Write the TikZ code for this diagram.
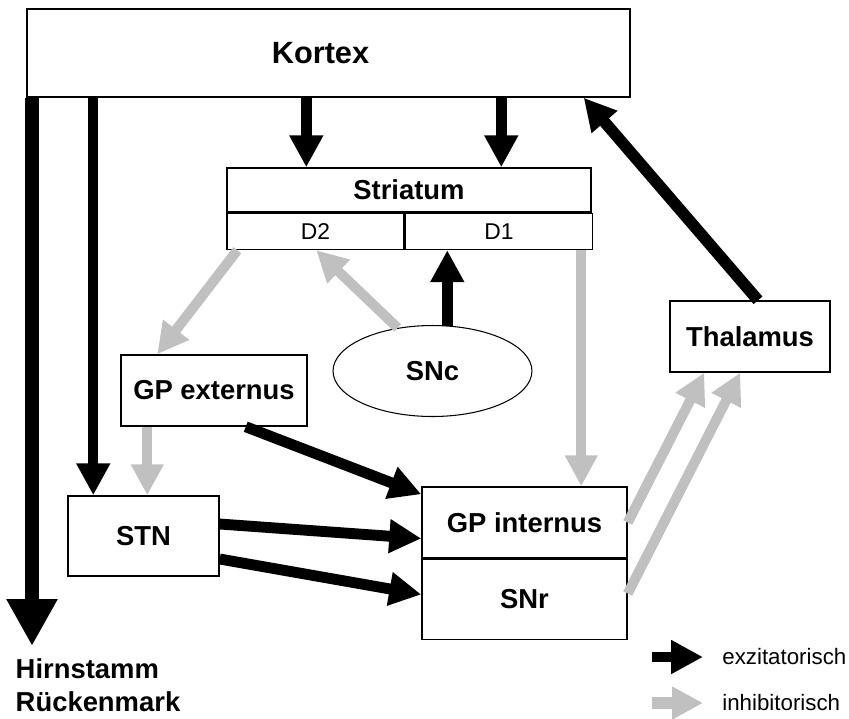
\documentclass[tikz,border=0pt]{standalone}
\usepackage{fontspec}
\setmainfont{Liberation Sans}
\usetikzlibrary{calc, arrows.meta, shapes}
\definecolor{mygray}{RGB}{192, 192, 192}
\tikzset{>=latex}

\begin{document}
\begin{tikzpicture}[x=0.02cm, y=-0.02cm,
  box/.style={draw, line width=0.85pt, inner sep=0pt, font=\fontsize{15.6}{18.7}\selectfont\bfseries},
  sub/.style={draw, line width=0.85pt, inner sep=0pt, minimum height=0.72cm, font=\fontsize{13}{15}\selectfont},
  exz/.style={line width=6.2pt, -{Triangle[length=0.64cm, width=0.64cm]}},
  inh/.style={draw=mygray, line width=5.7pt, -{Triangle[length=0.62cm, width=0.62cm]}},
  lbl/.style={inner sep=0pt, font=\fontsize{12.7}{15}\selectfont}]
\useasboundingbox (0,0) rectangle (849,718);

\node[box, minimum width=12.06cm, minimum height=1.76cm, font=\fontsize{17.5}{21}\selectfont\bfseries] (kortex) at (328.5,53) {Kortex\rule{0.32cm}{0pt}};
\node[box, minimum width=7.28cm, minimum height=0.88cm] (striatum) at (409,190) {Striatum};
\node[sub, anchor=north west, minimum width=3.54cm] (d2) at (striatum.south west) {D2};
\node[sub, anchor=north west, minimum width=3.74cm] (d1) at (d2.north east) {D1};
\node[box, minimum width=3.72cm, minimum height=1.42cm] (gpe) at (214,390.5) {GP externus};
\node[box, ellipse, line width=0.6pt, minimum width=3.98cm, minimum height=1.82cm] (snc) at (432.5,371) {SNc};
\node[box, minimum width=3.02cm, minimum height=1.6cm] (stn) at (143.5,536) {STN};
\node[box, minimum width=4.1cm, minimum height=1.42cm] (gpi) at (524.5,522.5) {GP internus};
\node[box, anchor=north, minimum width=4.1cm, minimum height=1.6cm] (snr) at (gpi.south) {SNr};
\node[box, minimum width=3.2cm, minimum height=1.42cm] (thal) at (750,336.5) {Thalamus};

\coordinate (hirn) at (32,646);
\coordinate (s1) at ($(striatum.north west)+(80,0)$);
\coordinate (s2) at ($(striatum.north west)+(275,0)$);
\coordinate (t1) at ($(stn.north west)+(26,0)$);
\coordinate (t2) at ($(stn.north west)+(80,0)$);
\coordinate (g1) at ($(gpi.north west)+(160,0)$);

\draw[line width=8.5pt, -{Triangle[length=0.94cm, width=0.96cm]}] (kortex.south -| hirn) -- (hirn);
\draw[exz, line width=5.7pt] (kortex.south -| t1) -- (t1);
\draw[exz] (kortex.south -| s1) -- (s1);
\draw[exz] (kortex.south -| s2) -- (s2);
\draw[exz, line width=6.6pt] ($(thal.north)+(8,0)$) -- ($(kortex.south east)+(-47,0)$);
\draw[exz] (snc.72) -- (snc.72 |- d1.south);
\draw[exz] ($(gpe.south east)+(-62,0)$) -- ($(gpi.north west)+(0,8)$);
\draw[exz] ($(stn.east)+(0,-12)$) -- ($(gpi.west)+(0,16)$);
\draw[exz] ($(stn.east)+(0,23)$) -- ($(snr.west)+(0,-5)$);

\draw[inh] (snc.129) -- ($(d2.south west)+(90,0)$);
\draw[inh] ($(d2.south west)+(11,0)$) -- ($(gpe.north west)+(37,0)$);
\draw[inh] (gpe.south -| t2) -- (t2);
\draw[inh] (d1.south -| g1) -- (g1);
\draw[inh] (gpi.east) -- ($(thal.south west)+(35,0)$);
\draw[inh] ($(snr.east)+(0,-6)$) -- ($(thal.south west)+(71,0)$);

\node[box, draw=none, anchor=west, align=left] (hirnlbl) at (15,685) {Hirnstamm\\Rückenmark};

\coordinate (ex) at (652,657);
\coordinate (in) at (652,703);
\node[lbl, anchor=west] (exlbl) at (722,657) {exzitatorisch};
\node[lbl, anchor=west] (inlbl) at (722,703) {inhibitorisch};
\draw[exz] (ex) -- ($(exlbl.west)+(-19,0)$);
\draw[inh, line width=6.8pt] (in) -- ($(inlbl.west)+(-19,0)$);
\end{tikzpicture}
\end{document}
